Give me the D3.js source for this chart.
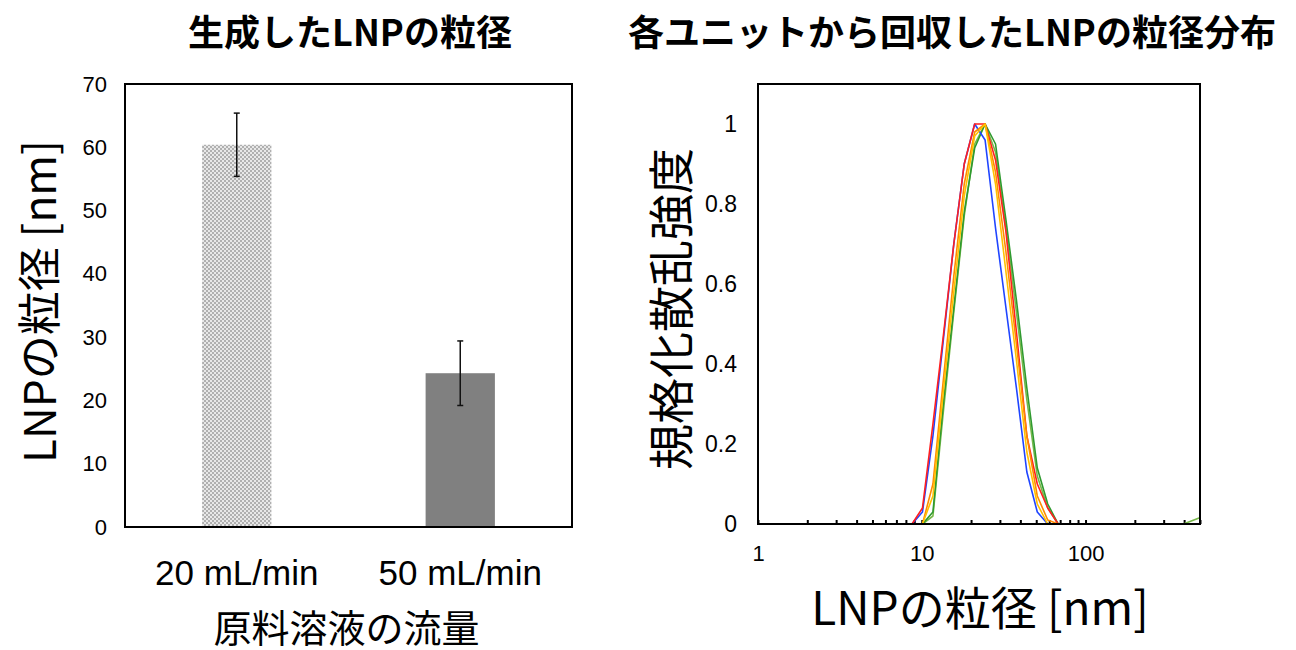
<!DOCTYPE html>
<html>
<head>
<meta charset="utf-8">
<script src="https://cdn.jsdelivr.net/npm/d3@7"></script>
<style>
  body { margin: 0; background: #fff; }
  svg text { fill: #000; }
  .jp { font-family: "Noto Sans CJK JP", "Noto Sans", sans-serif; }
  .num { font-family: "Liberation Sans", Arial, sans-serif; }
</style>
</head>
<body>
<svg id="chart" width="1296" height="650"></svg>
<script>
// left chart: particle size vs flow rate
const flowRates = ["20 mL/min", "50 mL/min"];
const meanSize = [60.4, 24.3];
const sizeErr = [5.0, 5.1];
const leftTicks = [0, 10, 20, 30, 40, 50, 60, 70];

// right chart: size distribution (DLS bins, nm)
const sizes = [0.9649, 1.117, 1.294, 1.499, 1.736, 2.010, 2.328, 2.696, 3.122, 3.615,
  4.187, 4.849, 5.615, 6.503, 7.531, 8.721, 10.10, 11.70, 13.54, 15.69,
  18.17, 21.04, 24.36, 28.21, 32.67, 37.84, 43.82, 50.75, 58.77, 68.06,
  78.82, 91.28, 105.7, 122.4, 141.8, 164.2, 190.1, 220.2, 255.0, 295.3,
  342.0, 396.1, 458.7, 531.2];
const lightGreen = [0,0,0,0,0,0,0,0,0,0, 0,0,0,0,0, 0,0,0.02,0.28,0.53,
  0.77,0.95,1.00,0.93,0.74,0.53,0.31,0.12,0.04,0, 0,0,0,0,0,0,0,0,0,0, 0,0,0.01,0.02];
const green = [0,0,0,0,0,0,0,0,0,0, 0,0,0,0,0, 0,0,0.03,0.30,0.54,
  0.78,0.94,1.00,0.95,0.76,0.56,0.34,0.14,0.05,0, 0,0,0,0,0,0,0,0,0,0, 0,0,0,0];
const blue = [0,0,0,0,0,0,0,0,0,0, 0,0,0,0,0, 0,0.03,0.22,0.46,0.70,
  0.90,1.00,0.96,0.74,0.54,0.34,0.13,0.03,0,0, 0,0,0,0,0,0,0,0,0,0, 0,0,0,0];
const red = [0,0,0,0,0,0,0,0,0,0, 0,0,0,0,0, 0,0.04,0.25,0.47,0.70,
  0.90,1.00,1.00,0.91,0.73,0.48,0.22,0.10,0.04,0, 0,0,0,0,0,0,0,0,0,0, 0,0,0,0];
const orange = [0,0,0,0,0,0,0,0,0,0, 0,0,0,0,0, 0,0,0.10,0.36,0.62,
  0.85,0.98,1.00,0.88,0.68,0.45,0.22,0.07,0.01,0, 0,0,0,0,0,0,0,0,0,0, 0,0,0,0];
const gold = [0,0,0,0,0,0,0,0,0,0, 0,0,0,0,0, 0,0,0.07,0.33,0.58,
  0.82,0.97,1.00,0.85,0.63,0.41,0.18,0.05,0,0, 0,0,0,0,0,0,0,0,0,0, 0,0,0,0];
const rightYTicks = [0, 0.2, 0.4, 0.6, 0.8, 1];
const rightXTicks = [1, 10, 100];

const series = [
  { values: lightGreen, color: "#78b84a" },
  { values: green, color: "#2f9a2f" },
  { values: blue, color: "#1f45ff" },
  { values: red, color: "#ff1f1f" },
  { values: orange, color: "#ff8a00" },
  { values: gold, color: "#ffc000" }
];

const svg = d3.select("#chart");

// checker pattern for first bar
const defs = svg.append("defs");
const pat = defs.append("pattern")
  .attr("id", "checker")
  .attr("width", 4).attr("height", 4)
  .attr("patternUnits", "userSpaceOnUse");
pat.append("rect").attr("width", 4).attr("height", 4).attr("fill", "#e8e8e8");
pat.append("rect").attr("width", 2).attr("height", 2).attr("fill", "#b0b0b0");
pat.append("rect").attr("x", 2).attr("y", 2).attr("width", 2).attr("height", 2).attr("fill", "#b0b0b0");

// ---------- left chart ----------
const L = { left: 125, right: 572, top: 84, bottom: 527 };

const xL = d3.scaleBand().domain(flowRates).range([L.left, L.right]);
const yL = d3.scaleLinear().domain([0, 70]).range([L.bottom, L.top]);
const barW = xL.bandwidth() * 0.31;

const gL = svg.append("g");

gL.selectAll(".bar")
  .data(flowRates)
  .join("rect")
  .attr("class", "bar")
  .attr("x", d => xL(d) + xL.bandwidth() / 2 - barW / 2)
  .attr("width", barW)
  .attr("y", (d, i) => yL(meanSize[i]))
  .attr("height", (d, i) => yL(0) - yL(meanSize[i]))
  .attr("fill", (d, i) => i === 0 ? "url(#checker)" : "#808080");

// error bars
const err = gL.selectAll(".err")
  .data(flowRates)
  .join("g")
  .attr("class", "err")
  .attr("transform", d => `translate(${xL(d) + xL.bandwidth() / 2},0)`);
err.append("line")
  .attr("y1", (d, i) => yL(meanSize[i] + sizeErr[i]))
  .attr("y2", (d, i) => yL(meanSize[i] - sizeErr[i]))
  .attr("stroke", "#111").attr("stroke-width", 1.5);
err.append("line")
  .attr("x1", -3).attr("x2", 3)
  .attr("y1", (d, i) => yL(meanSize[i] + sizeErr[i]))
  .attr("y2", (d, i) => yL(meanSize[i] + sizeErr[i]))
  .attr("stroke", "#111").attr("stroke-width", 1.5);
err.append("line")
  .attr("x1", -3).attr("x2", 3)
  .attr("y1", (d, i) => yL(meanSize[i] - sizeErr[i]))
  .attr("y2", (d, i) => yL(meanSize[i] - sizeErr[i]))
  .attr("stroke", "#111").attr("stroke-width", 1.5);

gL.append("rect")
  .attr("x", L.left).attr("y", L.top)
  .attr("width", L.right - L.left).attr("height", L.bottom - L.top)
  .attr("fill", "none").attr("stroke", "#000").attr("stroke-width", 2);

// y axis (labels only)
const axL = gL.append("g")
  .attr("transform", `translate(${L.left},0)`)
  .call(d3.axisLeft(yL).tickValues(leftTicks).tickSize(0).tickPadding(18));
axL.select(".domain").remove();
axL.selectAll("text").attr("class", "num").style("font-size", "22px");

// x axis labels
const axLx = gL.append("g")
  .attr("transform", `translate(0,${L.bottom})`)
  .call(d3.axisBottom(xL).tickSize(0).tickPadding(33));
axLx.select(".domain").remove();
axLx.selectAll("text").attr("class", "num").style("font-size", "35px");

gL.append("text")
  .attr("class", "jp")
  .attr("transform", `translate(56,${(L.top + L.bottom) / 2 - 4}) rotate(-90)`)
  .attr("text-anchor", "middle")
  .style("font-size", "44px")
  .text("LNPの粒径 [nm]");

gL.append("text")
  .attr("class", "jp")
  .attr("x", (L.left + L.right) / 2 - 2).attr("y", 642)
  .attr("text-anchor", "middle")
  .style("font-size", "38px")
  .text("原料溶液の流量");

svg.append("text")
  .attr("class", "jp")
  .attr("x", 350).attr("y", 46)
  .attr("text-anchor", "middle")
  .style("font-size", "36px").style("font-weight", 700)
  .text("生成したLNPの粒径");

// ---------- right chart ----------
const R = { left: 758, right: 1200, top: 84, bottom: 524 };

const xR = d3.scaleLog().domain([1, 500]).range([R.left, R.right]);
const yR = d3.scaleLinear().domain([0, 1.1]).range([R.bottom, R.top]);

const gR = svg.append("g");

defs.append("clipPath").attr("id", "clipR")
  .append("rect")
  .attr("x", R.left).attr("y", R.top - 5)
  .attr("width", R.right - R.left).attr("height", R.bottom - R.top + 10);

// minor ticks pointing inward
const minor = [];
[1, 10, 100].forEach(dec => {
  for (let k = 1; k <= 9; k++) if (dec * k <= 500) minor.push(dec * k);
});
const axRx = gR.append("g")
  .attr("transform", `translate(0,${R.bottom})`)
  .call(d3.axisTop(xR).tickValues(minor).tickSize(4).tickFormat(""));
axRx.select(".domain").remove();
axRx.selectAll("line").attr("stroke", "#000").attr("stroke-width", 2);

const line = d3.line()
  .x((d, i) => xR(sizes[i]))
  .y(d => yR(d));

gR.append("g")
  .attr("clip-path", "url(#clipR)")
  .selectAll("path")
  .data(series)
  .join("path")
  .attr("d", d => line(d.values))
  .attr("fill", "none")
  .attr("stroke", d => d.color)
  .attr("stroke-width", 1.6)
  .attr("stroke-linejoin", "round");

gR.append("rect")
  .attr("x", R.left).attr("y", R.top)
  .attr("width", R.right - R.left).attr("height", R.bottom - R.top)
  .attr("fill", "none").attr("stroke", "#000").attr("stroke-width", 2);

const axRy = gR.append("g")
  .attr("transform", `translate(${R.left},0)`)
  .call(d3.axisLeft(yR).tickValues(rightYTicks).tickSize(0).tickPadding(21)
    .tickFormat(d3.format("~g")));
axRy.select(".domain").remove();
axRy.selectAll("text").attr("class", "num").style("font-size", "23px");

const axRxl = gR.append("g")
  .attr("transform", `translate(0,${R.bottom})`)
  .call(d3.axisBottom(xR).tickValues(rightXTicks).tickSize(0).tickPadding(21)
    .tickFormat(d3.format("d")));
axRxl.select(".domain").remove();
axRxl.selectAll("text").attr("class", "num").style("font-size", "22px");

gR.append("text")
  .attr("class", "jp")
  .attr("transform", `translate(688,${(R.top + R.bottom) / 2 + 5}) rotate(-90)`)
  .attr("text-anchor", "middle")
  .style("font-size", "46px")
  .text("規格化散乱強度");

gR.append("text")
  .attr("class", "jp")
  .attr("x", 980).attr("y", 625)
  .attr("text-anchor", "middle")
  .style("font-size", "46px")
  .text("LNPの粒径 [nm]");

svg.append("text")
  .attr("class", "jp")
  .attr("x", 952).attr("y", 46)
  .attr("text-anchor", "middle")
  .style("font-size", "36px").style("font-weight", 700)
  .text("各ユニットから回収したLNPの粒径分布");
</script>
</body>
</html>
